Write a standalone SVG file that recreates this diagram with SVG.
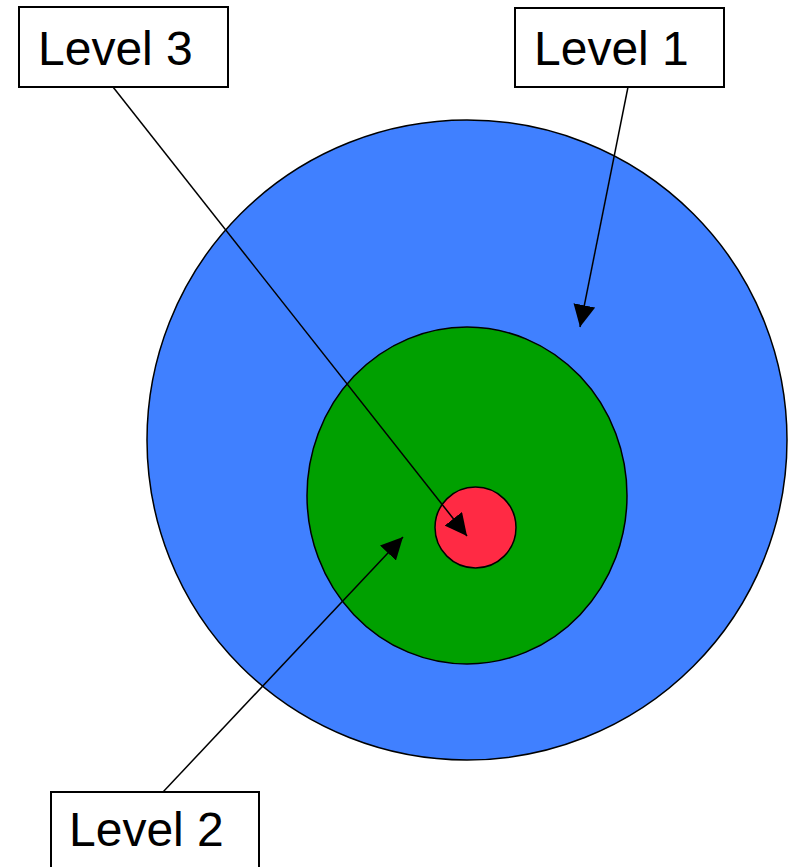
<svg xmlns="http://www.w3.org/2000/svg" width="789" height="867" viewBox="0 0 789 867">
<style>
.box{fill:#fff;stroke:#000;stroke-width:2}
.lbl{font-family:"Liberation Sans",Arial,sans-serif;font-size:48px;fill:#000}
.ring{stroke:#000;stroke-width:1.5}
.conn{stroke:#000;stroke-width:1.5;fill:none}
</style>
<defs>
<marker id="ah" markerUnits="userSpaceOnUse" markerWidth="24" markerHeight="22" refX="22" refY="11" orient="auto">
<path d="M0,0 L22,11 L0,22 Z" fill="#000"/>
</marker>
</defs>
<g id="level1-circle"><circle class="ring" cx="467" cy="440" r="320" fill="#4080FF"/></g>
<g id="level2-circle"><ellipse class="ring" cx="467" cy="495.5" rx="160" ry="168.5" fill="#00A000"/></g>
<g id="level3-circle"><circle class="ring" cx="475.5" cy="527.5" r="40.5" fill="#FF2A44"/></g>
<g id="connectors">
<line class="conn" x1="113" y1="87" x2="467" y2="536" marker-end="url(#ah)"/>
<line class="conn" x1="628" y1="87" x2="580" y2="327" marker-end="url(#ah)"/>
<line class="conn" x1="163" y1="792" x2="403" y2="537" marker-end="url(#ah)"/>
</g>
<g id="label-level3"><rect class="box" x="19" y="7" width="209" height="80"/><text class="lbl" x="38" y="65">Level 3</text></g>
<g id="label-level1"><rect class="box" x="515" y="8" width="209" height="79"/><text class="lbl" x="534" y="65">Level 1</text></g>
<g id="label-level2"><rect class="box" x="51" y="792" width="208" height="90"/><text class="lbl" x="69" y="846">Level 2</text></g>
</svg>
